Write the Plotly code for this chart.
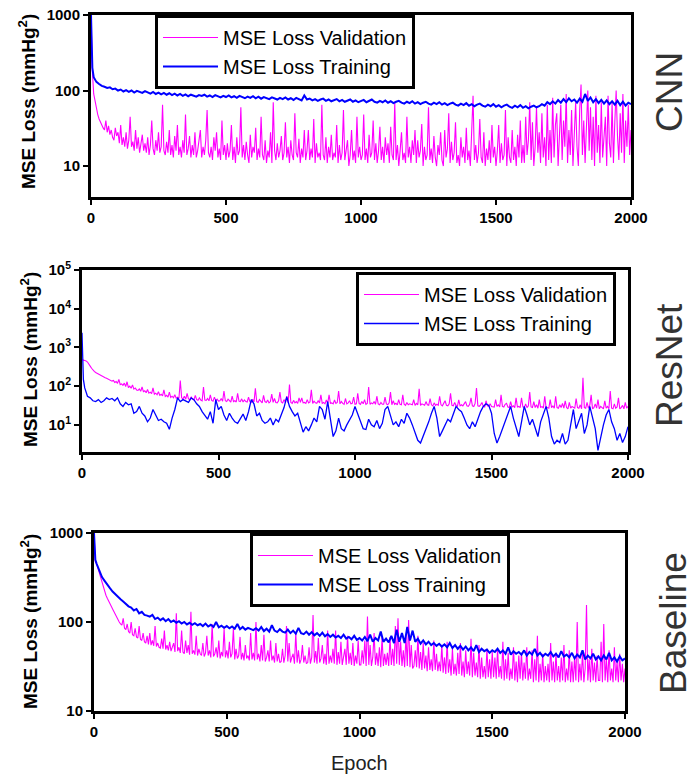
import plotly.graph_objects as go

# ---------------- data ----------------
epochs = [0, 2, 5] + list(range(10, 2001, 10))          # training curves
epochs_fine = [0, 2] + list(range(5, 2001, 5))          # validation curves

cnn_val = [1000, 350,
    180, 90, 70, 55, 48, 42, 38, 35, 32, 30, 40, 28, 34, 26, 30, 24, 22, 32, 25, 28,
    20, 35, 19, 24, 18, 28, 17, 22, 45, 18, 21, 16, 30, 17, 24, 15, 19, 26, 16, 20,
    15, 24, 14, 19, 40, 17, 14, 22, 16, 28, 15, 18, 65, 16, 14, 21, 15, 30, 14, 19,
    13, 25, 16, 35, 14, 18, 13, 22, 15, 48, 14, 17, 25, 13, 19, 14, 28, 13, 16, 22,
    30, 13, 18, 14, 22, 55, 15, 13, 18, 12, 24, 16, 28, 13, 17, 12, 40, 14, 19, 12,
    20, 13, 16, 35, 12, 18, 11, 24, 14, 16, 60, 13, 19, 12, 21, 14, 11, 26, 13, 18,
    15, 32, 12, 17, 13, 45, 14, 12, 22, 11, 16, 13, 28, 11, 70, 16, 12, 20, 13, 16,
    25, 12, 15, 38, 13, 18, 11, 22, 14, 12, 50, 15, 13, 23, 11, 17, 13, 30, 12, 16,
    30, 12, 17, 13, 42, 11, 20, 13, 15, 12, 65, 14, 12, 24, 11, 18, 13, 26, 12, 15,
    13, 35, 11, 19, 12, 15, 55, 12, 17, 22, 10, 14, 30, 12, 16, 11, 45, 13, 18, 12,
    14, 48, 12, 17, 11, 26, 13, 15, 40, 12, 20, 11, 16, 33, 12, 18, 11, 24, 14, 20,
    11, 33, 14, 12, 70, 12, 19, 10, 16, 28, 12, 15, 11, 45, 13, 18, 11, 22, 14, 30,
    11, 22, 13, 16, 36, 10, 18, 12, 14, 60, 12, 17, 11, 25, 13, 10, 19, 14, 28, 12,
    10, 30, 13, 17, 50, 11, 21, 12, 15, 38, 11, 14, 10, 24, 13, 18, 11, 32, 12, 16,
    10, 24, 85, 12, 19, 11, 15, 42, 13, 11, 28, 10, 17, 12, 22, 11, 35, 13, 18, 10,
    16, 35, 11, 20, 12, 14, 55, 10, 24, 13, 11, 30, 12, 18, 10, 26, 13, 40, 11, 19,
    11, 45, 14, 22, 70, 12, 38, 10, 18, 60, 15, 28, 11, 50, 13, 24, 10, 65, 12, 30,
    11, 80, 13, 35, 50, 10, 24, 65, 12, 40, 18, 90, 11, 30, 14, 55, 10, 28, 70, 18,
    10, 55, 120, 14, 40, 11, 30, 100, 16, 60, 12, 45, 10, 85, 15, 35, 11, 70, 13, 25,
    45, 10, 85, 20, 13, 70, 11, 38, 100, 25, 12, 50, 15, 90, 11, 40, 18, 65, 14, 30]

cnn_train = [1000, 350, 200,
    150, 130, 122, 115, 112, 108, 110, 104, 106, 100,
    103, 97, 101, 96, 100, 94, 99, 95, 93, 98,
    95, 91, 96, 90, 94, 89, 93, 88, 92, 87,
    91, 86, 90, 85, 89, 84, 88, 86, 83, 87,
    85, 88, 83, 86, 82, 87, 84, 81, 85, 82,
    86, 81, 84, 80, 85, 81, 79, 83, 80, 84,
    79, 83, 78, 82, 79, 77, 81, 78, 76, 80,
    77, 81, 76, 79, 75, 80, 77, 74, 86, 76,
    78, 74, 77, 73, 76, 78, 73, 76, 72, 75,
    77, 72, 75, 71, 74, 76, 71, 74, 70, 73,
    75, 70, 73, 76, 71, 69, 73, 70, 74, 69,
    72, 68, 71, 73, 69, 67, 71, 68, 72, 67,
    70, 66, 69, 71, 67, 65, 69, 66, 70, 65,
    68, 64, 67, 69, 65, 63, 67, 64, 68, 63,
    66, 62, 65, 67, 63, 61, 65, 62, 66, 61,
    64, 60, 63, 65, 61, 59, 63, 60, 64, 59,
    62, 58, 61, 63, 60, 62, 66, 63, 70, 66,
    72, 67, 75, 69, 77, 70, 79, 72, 76, 69,
    78, 71, 90, 73, 81, 70, 77, 68, 75, 67,
    74, 66, 72, 65, 73, 64, 71, 63, 69, 66]

resnet_val = [500, 480,
    470, 460, 450, 420, 380, 330, 290, 260, 240, 225, 215, 200, 190, 180, 175, 170, 165, 160, 155, 150,
    145, 135, 140, 125, 132, 118, 150, 110, 115, 105, 120, 98, 130, 92, 100, 88, 108, 84, 90, 80,
    78, 85, 74, 95, 72, 76, 68, 82, 66, 70, 64, 90, 62, 66, 60, 72, 58, 62, 56, 80,
    54, 58, 52, 70, 51, 55, 50, 60, 49, 52, 48, 140, 50, 47, 55, 46, 65, 47, 45, 52,
    46, 44, 58, 45, 43, 50, 44, 42, 95, 44, 43, 48, 42, 60, 43, 41, 52, 42, 46, 41,
    42, 48, 41, 75, 42, 40, 46, 41, 39, 55, 40, 42, 39, 65, 41, 40, 47, 39, 44, 40,
    39, 52, 40, 38, 46, 39, 88, 40, 38, 45, 39, 37, 58, 40, 38, 44, 37, 40, 62, 38,
    48, 38, 37, 42, 70, 39, 37, 45, 38, 55, 37, 110, 38, 36, 43, 37, 40, 36, 50, 38,
    50, 37, 38, 36, 45, 37, 39, 80, 36, 41, 37, 36, 42, 37, 60, 36, 38, 35, 44, 36,
    60, 36, 37, 35, 44, 36, 38, 75, 35, 40, 36, 34, 48, 35, 37, 42, 35, 36, 52, 34,
    35, 65, 36, 34, 40, 35, 45, 34, 36, 95, 34, 37, 35, 40, 34, 55, 35, 33, 38, 34,
    34, 52, 35, 33, 37, 70, 33, 42, 34, 36, 33, 45, 34, 33, 60, 34, 32, 38, 33, 35,
    34, 33, 45, 32, 36, 33, 85, 32, 35, 33, 32, 40, 33, 32, 48, 33, 31, 37, 32, 34,
    32, 55, 33, 31, 36, 42, 32, 31, 35, 65, 32, 31, 38, 32, 30, 44, 31, 33, 31, 36,
    40, 31, 30, 34, 50, 31, 30, 36, 90, 31, 30, 33, 38, 30, 29, 42, 31, 30, 35, 30,
    30, 29, 45, 30, 33, 29, 60, 30, 29, 34, 36, 29, 28, 40, 29, 31, 28, 50, 29, 30,
    28, 50, 29, 28, 35, 28, 31, 70, 29, 28, 40, 28, 33, 27, 45, 28, 30, 27, 55, 28,
    28, 27, 45, 28, 31, 27, 55, 28, 27, 33, 28, 36, 27, 42, 28, 26, 38, 27, 30, 28,
    27, 48, 28, 27, 33, 26, 165, 28, 27, 38, 27, 32, 60, 26, 28, 35, 27, 45, 26, 30,
    27, 26, 42, 27, 30, 26, 75, 27, 26, 35, 27, 29, 50, 26, 28, 32, 26, 38, 27, 30]

resnet_train = [2400, 600, 150,
    90, 55, 50, 42, 40, 45, 38, 42, 50, 45,
    48, 42, 50, 35, 30, 38, 33, 35, 20, 22,
    30, 20, 17, 12, 15, 25, 18, 13, 14, 12,
    11, 7.7, 15, 25, 50, 40, 45, 42, 38, 50,
    45, 35, 30, 22, 18, 14, 22, 11, 45, 25,
    30, 18, 13, 20, 15, 12, 11, 14, 19, 13,
    22, 45, 35, 17, 20, 13, 11, 12, 15, 10,
    14, 12, 18, 28, 53, 30, 22, 17, 20, 12,
    6.5, 9, 7, 10, 15, 12, 30, 25, 14, 40,
    12, 5, 7, 15, 8, 7, 10, 13, 18, 30,
    20, 12, 8, 7.6, 14, 10, 9, 13, 8, 11,
    25, 30, 18, 10, 12, 9, 14, 11, 20, 15,
    10, 6, 4, 3.4, 5, 8, 12, 20, 30, 15,
    5, 7, 10, 14, 12, 18, 30, 25, 22, 15,
    10, 8, 12, 9, 15, 22, 30, 35, 32, 20,
    6, 3.4, 5, 8, 12, 20, 30, 15, 9, 5,
    12, 30, 18, 10, 14, 8, 5, 12, 20, 30,
    15, 5, 3.2, 4, 3.5, 6, 3.2, 4, 10, 25,
    8, 12, 20, 6, 10, 30, 15, 8, 2.2, 5,
    10, 18, 25, 12, 8, 4, 6, 3.5, 5, 9]

base_val = [1000, 600,
    480, 450, 400, 350, 300, 270, 240, 215, 200, 185, 170, 160, 150, 140, 130, 120, 112, 105, 100, 95,
    92, 110, 85, 82, 95, 78, 75, 100, 72, 70, 85, 68, 66, 90, 64, 62, 75, 60, 58, 70,
    56, 75, 55, 62, 54, 90, 53, 58, 52, 51, 65, 50, 80, 49, 55, 48, 60, 47, 52, 58,
    46, 125, 47, 52, 45, 80, 46, 44, 62, 45, 55, 43, 130, 44, 48, 43, 70, 42, 50, 44,
    42, 58, 41, 45, 70, 42, 48, 40, 95, 41, 44, 52, 40, 62, 39, 46, 41, 85, 40, 48,
    39, 60, 40, 44, 85, 38, 50, 39, 42, 68, 38, 45, 37, 55, 39, 42, 37, 75, 38, 45,
    37, 100, 38, 44, 36, 55, 37, 72, 36, 40, 48, 36, 62, 37, 42, 35, 58, 36, 44, 35,
    36, 50, 35, 42, 90, 36, 58, 35, 40, 44, 34, 75, 35, 48, 34, 38, 55, 35, 42, 34,
    35, 52, 34, 40, 120, 35, 47, 34, 66, 35, 39, 55, 34, 44, 33, 80, 34, 42, 35, 50,
    34, 80, 33, 46, 34, 60, 33, 40, 50, 33, 70, 34, 45, 33, 58, 32, 42, 34, 62, 33,
    33, 48, 34, 62, 32, 115, 33, 55, 32, 40, 75, 33, 45, 32, 52, 31, 68, 32, 44, 33,
    45, 32, 68, 33, 50, 32, 90, 34, 110, 33, 60, 32, 48, 31, 72, 32, 105, 31, 55, 30,
    32, 48, 31, 70, 30, 46, 29, 58, 30, 42, 28, 52, 29, 38, 28, 62, 29, 44, 28, 36,
    28, 55, 27, 40, 26, 60, 27, 38, 25, 50, 26, 34, 25, 45, 26, 58, 25, 36, 24, 48,
    26, 36, 25, 65, 24, 45, 25, 35, 24, 55, 23, 40, 24, 32, 23, 50, 24, 38, 23, 46,
    24, 40, 23, 50, 24, 32, 23, 60, 22, 38, 23, 45, 22, 30, 23, 52, 22, 36, 21, 42,
    23, 45, 22, 35, 23, 52, 22, 30, 23, 48, 21, 38, 22, 70, 21, 34, 22, 44, 21, 32,
    22, 34, 21, 58, 22, 36, 21, 45, 22, 32, 21, 40, 22, 55, 21, 30, 22, 48, 21, 36,
    21, 40, 22, 100, 21, 34, 22, 46, 21, 30, 155, 22, 38, 21, 50, 22, 35, 21, 42, 22,
    22, 60, 21, 95, 22, 38, 21, 48, 22, 30, 21, 52, 22, 36, 21, 44, 22, 34, 21, 30]

base_train = [1000, 700, 500,
    450, 380, 320, 290, 260, 240, 220, 205, 190, 180,
    170, 160, 150, 145, 135, 140, 125, 130, 120, 118,
    115, 120, 108, 112, 105, 110, 102, 108, 100, 104,
    98, 102, 96, 100, 94, 98, 93, 97, 92, 95,
    90, 96, 89, 93, 88, 100, 87, 91, 86, 90,
    85, 89, 84, 95, 83, 88, 82, 86, 84, 81,
    85, 80, 88, 79, 84, 78, 92, 80, 77, 83,
    78, 76, 82, 75, 80, 74, 86, 75, 73, 78,
    72, 77, 71, 75, 70, 76, 69, 73, 68, 72,
    67, 70, 66, 72, 65, 68, 64, 70, 63, 66,
    62, 68, 61, 72, 60, 66, 62, 78, 60, 65,
    59, 70, 58, 82, 60, 75, 58, 88, 62, 80,
    60, 65, 57, 62, 56, 60, 55, 58, 54, 57,
    53, 56, 52, 58, 51, 55, 50, 54, 49, 53,
    48, 52, 47, 55, 46, 50, 47, 49, 45, 48,
    46, 50, 45, 48, 44, 52, 43, 47, 44, 46,
    43, 48, 42, 46, 43, 50, 42, 45, 41, 44,
    42, 46, 41, 44, 40, 47, 41, 43, 40, 45,
    39, 43, 40, 48, 38, 42, 39, 44, 38, 41,
    37, 42, 38, 45, 37, 40, 36, 41, 37, 39]

for s in (cnn_val, resnet_val, base_val):
    assert len(s) == len(epochs_fine), len(s)
for s in (cnn_train, resnet_train, base_train):
    assert len(s) == len(epochs), len(s)

x_ticks = [0, 500, 1000, 1500, 2000]
x_ticktext = ["0", "500", "1000", "1500", "2000"]
y_ticks_a = [10, 100, 1000]
y_ticktext_a = ["10", "100", "1000"]
y_ticks_b = [10, 100, 1000, 10000, 100000]
y_ticktext_b = ["10<sup>1</sup>", "10<sup>2</sup>", "10<sup>3</sup>", "10<sup>4</sup>", "10<sup>5</sup>"]
panel_names = ["CNN", "ResNet", "Baseline"]
val_name = "MSE Loss Validation"
train_name = "MSE Loss Training"
y_title = "<b>MSE Loss (mmHg<sup>2</sup>)</b>"
x_title = "Epoch"

# ---------------- figure ----------------
W, H = 696, 779
MAG = "#ff00ff"
BLUE = "#0000ff"
FONT = "Liberation Sans, Arial, sans-serif"

def px_x(p):
    return p / W

def px_y(p):
    return 1 - p / H

panels = [
    dict(val=cnn_val, train=cnn_train, xd=[91, 631], yd=[15, 197], yr=[0.59, 3.0],
         tv=y_ticks_a, tt=y_ticktext_a, leg=(155, 15), lab=(670, 92), ttl=(27, 102)),
    dict(val=resnet_val, train=resnet_train, xd=[82, 628], yd=[270, 452], yr=[0.30, 5.0],
         tv=y_ticks_b, tt=y_ticktext_b, leg=(356, 272), lab=(669, 365), ttl=(29, 360)),
    dict(val=base_val, train=base_train, xd=[94, 625], yd=[533, 711], yr=[1.0, 3.0],
         tv=y_ticks_a, tt=y_ticktext_a, leg=(250, 533), lab=(673, 623), ttl=(29, 622)),
]

fig = go.Figure()
layout = dict(
    width=W, height=H,
    margin=dict(l=0, r=0, t=0, b=0, autoexpand=False),
    paper_bgcolor="white", plot_bgcolor="white",
    font=dict(family=FONT, color="black"),
    annotations=[],
)

for i, p in enumerate(panels, start=1):
    sfx = "" if i == 1 else str(i)
    leg = "legend" if i == 1 else f"legend{i}"
    fig.add_trace(go.Scatter(x=epochs_fine, y=p["val"], mode="lines", name=val_name,
                             line=dict(color=MAG, width=1.1), xaxis=f"x{sfx}", yaxis=f"y{sfx}",
                             legend=leg))
    fig.add_trace(go.Scatter(x=epochs, y=p["train"], mode="lines", name=train_name,
                             line=dict(color=BLUE, width=2 if i != 2 else 1.3),
                             xaxis=f"x{sfx}", yaxis=f"y{sfx}", legend=leg))
    layout[f"xaxis{sfx}"] = dict(
        domain=[px_x(p["xd"][0]), px_x(p["xd"][1])], anchor=f"y{sfx}",
        range=[0, 2000], showgrid=False, zeroline=False, automargin=False,
        showline=True, linecolor="black", linewidth=3, mirror=True,
        ticks="outside", ticklen=5, tickwidth=2, tickcolor="black",
        tickvals=x_ticks, ticktext=x_ticktext,
        tickfont=dict(size=15, family=FONT, weight="bold", color="black"),
    )
    layout[f"yaxis{sfx}"] = dict(
        domain=[px_y(p["yd"][1]), px_y(p["yd"][0])], anchor=f"x{sfx}",
        type="log", range=p["yr"], showgrid=False, zeroline=False, automargin=False,
        showline=True, linecolor="black", linewidth=3, mirror=True,
        ticks="outside", ticklen=5, tickwidth=2, tickcolor="black",
        tickvals=p["tv"], ticktext=p["tt"],
        tickfont=dict(size=15, family=FONT, weight="bold", color="black"),
    )
    layout[leg] = dict(
        x=px_x(p["leg"][0]), y=px_y(p["leg"][1]), xanchor="left", yanchor="top",
        bgcolor="white", bordercolor="black", borderwidth=3, itemwidth=55,
        font=dict(size=20, family=FONT, color="black"),
    )
    layout["annotations"].append(dict(
        text=panel_names[i - 1], x=px_x(p["lab"][0]), y=px_y(p["lab"][1]),
        xref="paper", yref="paper", xanchor="center", yanchor="middle",
        textangle=-90, showarrow=False, font=dict(size=37, family=FONT, color="#333333")))
    layout["annotations"].append(dict(
        text=y_title, x=px_x(p["ttl"][0]), y=px_y(p["ttl"][1]),
        xref="paper", yref="paper", xanchor="center", yanchor="middle",
        textangle=-90, showarrow=False, font=dict(size=19, family=FONT, color="black")))

layout["annotations"].append(dict(
    text=x_title, x=px_x(359), y=px_y(763), xref="paper", yref="paper",
    xanchor="center", yanchor="middle", showarrow=False,
    font=dict(size=20, family=FONT, color="#222222")))

fig.update_layout(**layout)
fig.write_html("out.html", config={"displayModeBar": False},
               post_script="document.body.style.margin='0';document.body.style.overflow='hidden';")
